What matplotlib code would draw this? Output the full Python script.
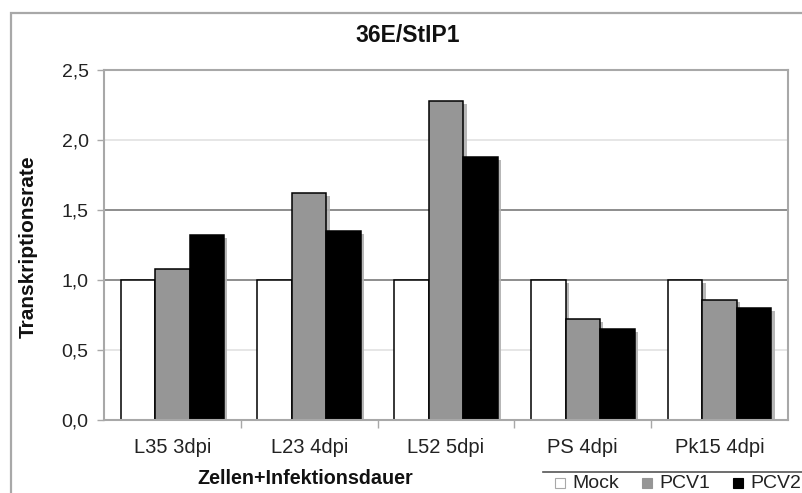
import matplotlib
matplotlib.use("Agg")
import matplotlib.pyplot as plt
import matplotlib.patheffects as pe
from matplotlib.patches import Rectangle
from matplotlib.lines import Line2D
import numpy as np

plt.rcParams['font.family'] = ['Liberation Sans', 'DejaVu Sans']

categories = ["L35 3dpi", "L23 4dpi", "L52 5dpi", "PS 4dpi", "Pk15 4dpi"]
series_names = ["Mock", "PCV1", "PCV2"]
mock = [1.0, 1.0, 1.0, 1.0, 1.0]
pcv1 = [1.08, 1.62, 2.28, 0.72, 0.86]
pcv2 = [1.32, 1.35, 1.88, 0.65, 0.80]
y_ticks = [0.0, 0.5, 1.0, 1.5, 2.0, 2.5]
y_tick_labels = ["0,0", "0,5", "1,0", "1,5", "2,0", "2,5"]

W, H = 803, 493
fig = plt.figure(figsize=(W / 100, H / 100), dpi=100)

def fx(px):
    return px / W

def fy(py):
    return 1 - py / H

# outer chart frame (runs off the right and bottom edges)
fig.patches.append(Rectangle((fx(11), fy(H + 20)), fx(W + 20 - 11), fy(13) - fy(H + 20),
                             transform=fig.transFigure, fill=False,
                             edgecolor='#a8a8a8', linewidth=1.6))

ax = fig.add_axes([fx(104), fy(420), fx(788) - fx(104), fy(70) - fy(420)])
ax.set_xlim(-0.5, len(categories) - 0.5)
ax.set_ylim(0, 2.5)

# horizontal gridlines
grid_colors = {0.5: '#e4e4e4', 1.0: '#858585', 1.5: '#858585', 2.0: '#e4e4e4'}
for yv, c in grid_colors.items():
    ax.axhline(yv, color=c, linewidth=1.3, zorder=0.5)

x = np.arange(len(categories))
bw = 0.252
fills = ['white', '#969696', 'black']
shadow = [pe.SimplePatchShadow(offset=(2.4, -2.0), shadow_rgbFace='#b0b0b0', alpha=0.9),
          pe.Normal()]
for i, (vals, fc) in enumerate(zip([mock, pcv1, pcv2], fills)):
    bars = ax.bar(x + (i - 1) * bw, vals, width=bw, color=fc, edgecolor='black',
                  linewidth=1.1, zorder=2)
    for b in bars:
        b.set_path_effects(shadow)

for side in ['left', 'right', 'top', 'bottom']:
    ax.spines[side].set_color('#a8a8a8')
    ax.spines[side].set_linewidth(1.5)
    ax.spines[side].set_zorder(3)

ax.set_yticks(y_ticks)
ax.set_yticklabels(y_tick_labels)
ax.tick_params(axis='y', direction='out', length=5, width=1.0, color='#a8a8a8',
               pad=6, labelsize=14, labelcolor='#222222')

ax.set_xticks(x)
ax.set_xticklabels(categories)
ax.set_xticks(np.arange(0.5, len(categories) - 0.5, 1.0), minor=True)
ax.tick_params(axis='x', which='major', length=0, pad=13, labelsize=14.5,
               labelcolor='#222222')
ax.tick_params(axis='x', which='minor', direction='out', length=6, width=1.0,
               color='#a8a8a8')

fig.text(fx(408), fy(36), "36E/StIP1", ha='center', va='center',
         fontsize=16.5, fontweight='bold', color='#111111')
fig.text(fx(28), fy(247), "Transkriptionsrate", ha='center', va='center',
         rotation=90, fontsize=15, fontweight='bold', color='#111111')
fig.text(fx(305), fy(479), "Zellen+Infektionsdauer", ha='center', va='center',
         fontsize=14.2, fontweight='bold', color='#111111')

# legend strip at the bottom right
fig.lines.append(Line2D([fx(543), fx(W + 5)], [fy(472), fy(472)],
                        transform=fig.transFigure, color='#555555', linewidth=1.2))
legend_x = [555, 642, 733]
for name, fc, lx in zip(series_names, fills, legend_x):
    ec = '#a8a8a8' if fc == 'white' else fc
    fig.patches.append(Rectangle((fx(lx), fy(488)), fx(10), fy(478) - fy(488),
                                 transform=fig.transFigure, facecolor=fc,
                                 edgecolor=ec, linewidth=0.8))
    fig.text(fx(lx + 17), fy(483), name, ha='left', va='center',
             fontsize=14, color='#222222')

fig.savefig("out.png", dpi=100, facecolor='white')
